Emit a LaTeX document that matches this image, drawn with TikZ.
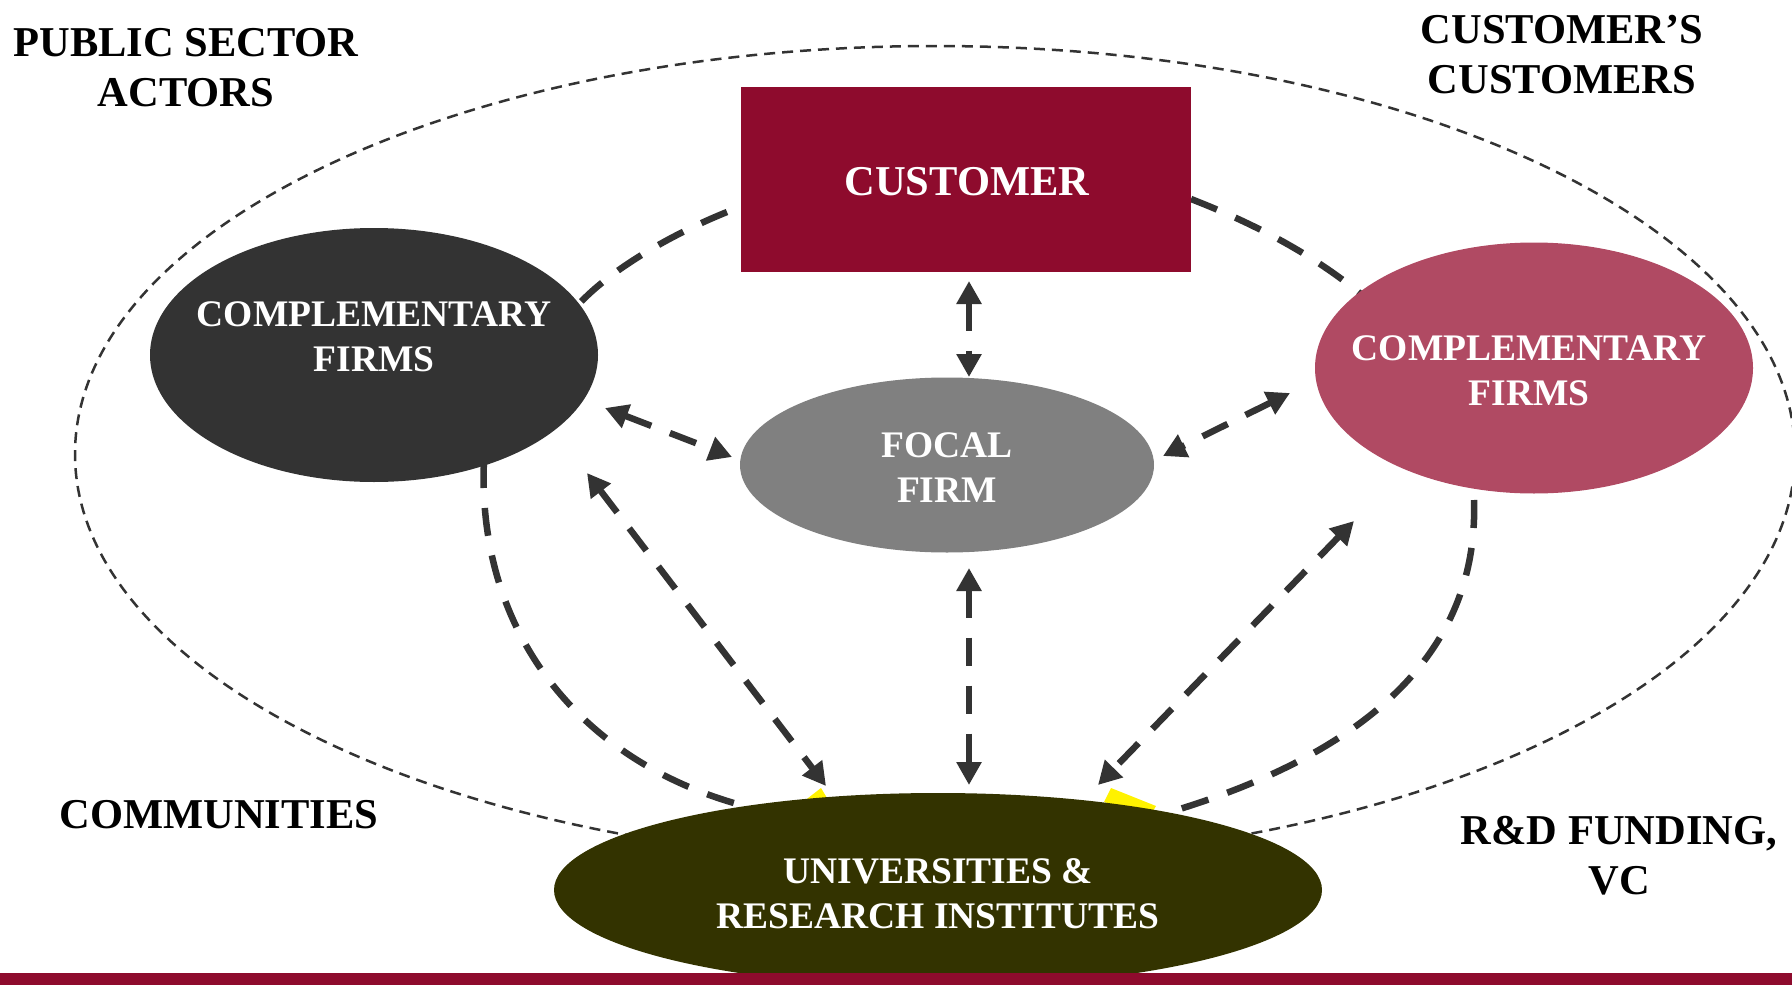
\documentclass[tikz,border=0pt]{standalone}
\usepackage{fontspec}
\setmainfont{Liberation Serif}
\usetikzlibrary{arrows.meta,shapes.geometric,backgrounds}
\definecolor{crim}{HTML}{8E0B2D}
\definecolor{dk}{HTML}{333333}
\definecolor{rose}{HTML}{B04A63}
\definecolor{olivedk}{HTML}{333300}
\definecolor{fgray}{HTML}{808080}
\newcommand\outerfont{\fontsize{42.5}{50}\selectfont\bfseries}
\newcommand\innerfont{\fontsize{37.5}{45}\selectfont\bfseries}
\begin{document}
\begin{tikzpicture}[x=1pt,y=-1pt,
  otext/.style={font=\outerfont, align=center, inner sep=0pt, text=black},
  ntext/.style={font=\innerfont, align=center, inner sep=0pt, text=white},
  blob/.style={ellipse, inner sep=0pt, draw=none},
  conn/.style={draw=dk, line width=6.5pt, dash pattern=on 28pt off 20pt},
  arr/.style={conn, {Triangle[length=23pt,width=24pt]}-{Triangle[length=23pt,width=24pt]}},
  outerring/.style={draw=dk, line width=2.5pt, dash pattern=on 11pt off 7pt}]
\useasboundingbox (0,0) rectangle (1792,985);

% nodes
\node[rectangle, fill=crim, minimum width=450pt, minimum height=185pt, inner sep=0pt] (cust) at (966,179.5) {};
\node[otext, text=white] (custt) at (967,182) {CUSTOMER};
\node[blob, fill=dk, minimum width=448pt, minimum height=254pt,
      label={[ntext,yshift=18pt]center:{COMPLEMENTARY\\FIRMS}}] (lc) at (374,355) {};
\node[blob, fill=rose, minimum width=438pt, minimum height=251pt,
      label={[ntext,xshift=-5pt,yshift=-3pt]center:{COMPLEMENTARY\\FIRMS}}] (rc) at (1534,368) {};
\node[blob, fill=fgray, minimum width=414pt, minimum height=175pt,
      label={[ntext,yshift=-3pt]center:{FOCAL\\FIRM}}] (focal) at (947,465) {};
\node[blob, fill=olivedk, minimum width=768pt, minimum height=194pt,
      label={[ntext,yshift=-4pt]center:{UNIVERSITIES \&\\RESEARCH INSTITUTES}}] (univ) at (938,890) {};

\node[otext] (psa) at (186,68) {PUBLIC SECTOR\\ACTORS};
\node[otext] (ccs) at (1562,55) {CUSTOMER’S\\CUSTOMERS};
\node[otext] (com) at (219,815) {COMMUNITIES};
\node[otext] (rdf) at (1619,855.5) {R\&D FUNDING,\\VC};

% connector end points
\coordinate (cf1) at (969,281);
\coordinate (cf2) at (969,377);
\coordinate (fu1) at (969,568);
\coordinate (fu2) at (969,785);
\coordinate (lf1) at (605,408);
\coordinate (lf2) at (732,457);
\coordinate (rf1) at (1290,393);
\coordinate (rf2) at (1163,456);
\coordinate (lu1) at (587,473);
\coordinate (lu2) at (826,786);
\coordinate (ru1) at (1354,521);
\coordinate (ru2) at (1098,785);
\coordinate (k1a) at (727,212);
\coordinate (k1b) at (578,305);
\coordinate (k2a) at (1191,199);
\coordinate (k2b) at (1362,295);
\coordinate (k3a) at (484,460);
\coordinate (k3b) at (770,812);
\coordinate (k4a) at (1474,500);
\coordinate (k4b) at (1170,812);

\begin{pgfonlayer}{background}
  \draw[outerring] (935,454) ellipse [x radius=860pt, y radius=408pt];
  \draw[conn] (k1a) .. controls (670,235) and (610,270) .. (k1b);
  \draw[conn] (k2a) .. controls (1250,222) and (1310,252) .. (k2b);
  \draw[conn] (k3a) .. controls (476,640) and (590,775) .. (k3b);
  \draw[conn] (k4a) .. controls (1478,620) and (1410,740) .. (k4b);
  \fill[yellow] (803,802) -- (821,788) -- (830,803) -- cycle;
  \fill[yellow] (1104,802) -- (1111,788) -- (1156,806) -- (1150,816) -- cycle;
\end{pgfonlayer}

% arrows
\draw[arr] (cf1) -- (cf2);
\draw[arr] (fu1) -- (fu2);
\draw[arr] (lf1) -- (lf2);
\draw[arr] (rf1) -- (rf2);
\draw[arr] (lu1) -- (lu2);
\draw[arr] (ru1) -- (ru2);

% bottom bar
\fill[crim] (0,973) rectangle (1792,985);
\end{tikzpicture}
\end{document}
